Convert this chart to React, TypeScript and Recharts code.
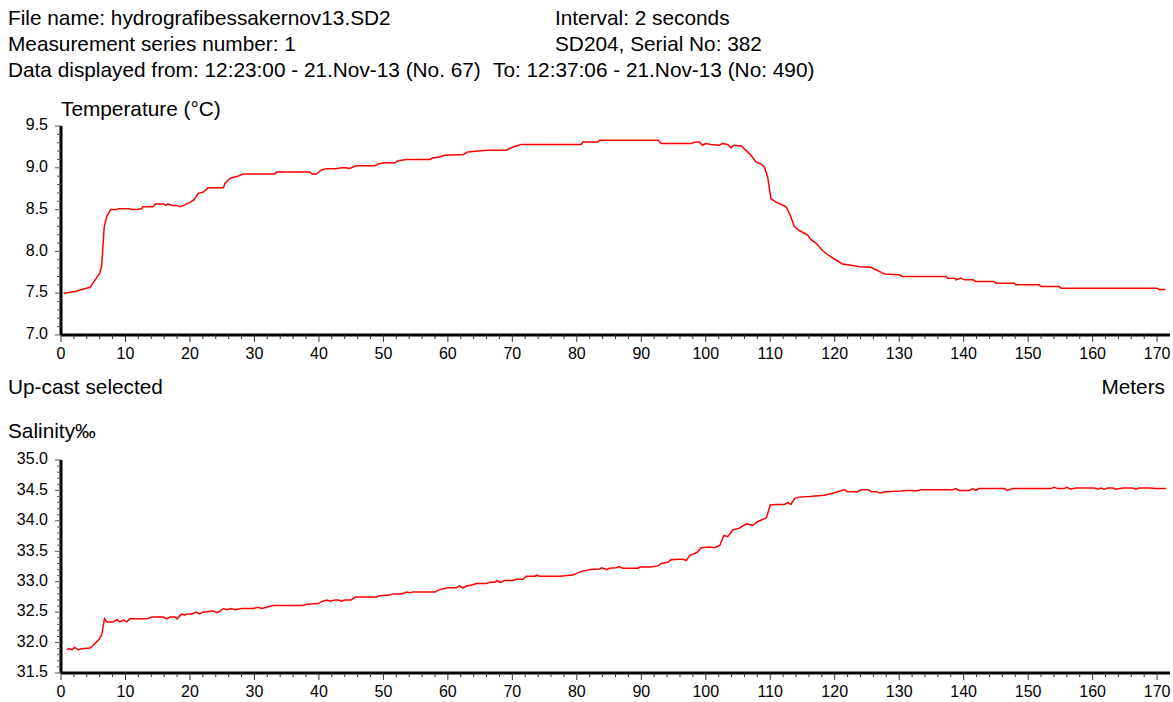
import { LineChart, Line, XAxis, YAxis } from 'recharts';

const FONT = '"Liberation Sans", Arial, Helvetica, sans-serif';

// Temperature profile (depth in meters, °C)
const tempDepth = [
  0.4, 1.4, 2.2, 3.5, 4.5, 5.3, 6.0, 6.3, 6.7, 7.1, 7.7, 8.6, 8.9, 10.7, 10.9, 11.7, 12.5, 12.7,
  14.3, 14.6, 15.9, 16.2, 16.6, 17.2, 17.9, 18.4, 19.0, 20.0, 20.6, 21.3, 22.1, 22.8, 25.2, 25.4,
  26.2, 26.9, 27.4, 28.3, 33.2, 33.4, 38.6, 38.9, 39.6, 40.4, 41.2, 42.7, 43.5, 44.3, 44.6, 45.0,
  45.8, 48.7, 49.2, 50.2, 51.8, 52.3, 53.6, 57.2, 57.7, 58.7, 59.5, 62.4, 63.1, 64.7, 66.0, 69.1,
  69.8, 70.6, 71.4, 80.7, 80.9, 83.3, 83.5, 92.6, 93.1, 97.7, 98.5, 99.0, 99.5, 100.0, 100.8,
  102.1, 102.6, 103.4, 103.9, 104.4, 105.5, 106.3, 107.0, 107.8, 108.6, 109.1, 109.6, 110.1,
  110.9, 111.9, 112.5, 113.2, 113.7, 114.5, 115.8, 116.3, 117.1, 118.1, 119.2, 120.2, 121.2,
  122.3, 123.8, 125.6, 126.4, 127.2, 127.7, 130.0, 130.5, 137.3, 137.5, 138.6, 138.8, 139.6,
  140.1, 141.4, 141.9, 144.7, 145.0, 147.9, 148.1, 151.7, 152.0, 154.8, 155.1, 170.0, 170.3, 171.3,
];
const tempValues = [
  7.5, 7.51, 7.52, 7.55, 7.57, 7.66, 7.74, 7.82, 8.29, 8.42, 8.5, 8.5, 8.51, 8.51, 8.5, 8.5, 8.51, 8.535,
  8.535, 8.567, 8.567, 8.55, 8.57, 8.55, 8.55, 8.535, 8.55, 8.587, 8.615, 8.695, 8.71, 8.76, 8.76, 8.81,
  8.874, 8.89, 8.9, 8.926, 8.926, 8.95, 8.95, 8.926, 8.926, 8.974, 8.99, 8.99, 9.0, 9.0, 8.99, 9.0,
  9.025, 9.025, 9.045, 9.06, 9.06, 9.085, 9.1, 9.1, 9.12, 9.13, 9.15, 9.16, 9.19, 9.2, 9.21, 9.21,
  9.24, 9.26, 9.28, 9.28, 9.31, 9.31, 9.33, 9.33, 9.29, 9.29, 9.31, 9.31, 9.27, 9.29, 9.28,
  9.27, 9.29, 9.28, 9.24, 9.27, 9.26, 9.205, 9.15, 9.07, 9.045, 9.01, 8.89, 8.63,
  8.59, 8.555, 8.53, 8.415, 8.3, 8.25, 8.196, 8.14, 8.1, 8.01, 7.945, 7.897, 7.85,
  7.837, 7.817, 7.81, 7.78, 7.75, 7.73, 7.72, 7.7, 7.7, 7.68, 7.68, 7.66, 7.68,
  7.66, 7.66, 7.64, 7.64, 7.62, 7.62, 7.6, 7.6, 7.58, 7.58, 7.56, 7.56, 7.545, 7.545,
];

// Salinity profile (depth in meters, ‰)
const salDepth = [
  0.9, 1.2, 1.7, 2.1, 2.7, 3.2, 4.5, 5.05, 5.8, 6.3, 6.75, 7.1, 8.1, 8.7, 9.1, 9.7, 10.2, 10.7,
  13.3, 14.1, 15.9, 16.4, 16.9, 17.7, 18.0, 18.7, 19.2, 19.5, 20.3, 21.0, 21.5, 22.0, 23.6, 24.1,
  24.6, 25.2, 25.7, 26.4, 27.0, 28.0, 29.8, 30.6, 31.1, 31.9, 32.9, 37.5, 38.1, 39.9, 40.6, 41.2,
  41.7, 42.5, 43.0, 43.5, 44.0, 45.0, 45.7, 48.9, 49.4, 51.0, 51.5, 52.8, 53.6, 54.1, 54.6, 58.0,
  58.7, 59.5, 60.0, 61.3, 61.8, 62.3, 62.9, 63.9, 64.4, 66.0, 66.5, 67.3, 67.6, 68.1, 68.8, 70.1,
  70.6, 71.6, 72.2, 73.5, 73.8, 74.2, 77.3, 79.4, 80.7, 82.2, 83.5, 83.9, 84.6, 85.1, 86.1, 86.6,
  87.1, 89.5, 89.7, 91.5, 91.8, 92.6, 93.1, 94.1, 94.6, 95.9, 96.4, 97.0, 97.5, 98.6, 99.3, 100.6,
  101.4, 102.2, 102.8, 103.4, 104.2, 105.2, 106.3, 107.3, 108.1, 109.4, 110.0, 110.9, 112.2, 112.7,
  113.2, 113.8, 114.5, 116.1, 118.4, 119.2, 120.2, 121.5, 122.0, 123.6, 124.1, 125.2, 125.7, 126.5,
  127.0, 128.0, 130.3, 131.1, 132.1, 132.6, 133.4, 138.3, 138.8, 139.3, 140.9, 141.4, 141.9, 142.4,
  146.3, 146.8, 147.6, 153.5, 154.0, 154.6, 155.6, 156.0, 156.6, 157.4, 160.3, 160.8, 161.3, 161.8,
  162.4, 163.1, 163.6, 164.7, 166.2, 166.7, 167.2, 168.8, 169.8, 171.4,
];
const salValues = [
  31.88, 31.9, 31.88, 31.92, 31.88, 31.9, 31.91, 31.96, 32.04, 32.12, 32.39, 32.34, 32.34, 32.38, 32.34, 32.37, 32.34, 32.39,
  32.39, 32.42, 32.42, 32.39, 32.42, 32.42, 32.39, 32.47, 32.45, 32.47, 32.47, 32.5, 32.47, 32.5, 32.52, 32.49,
  32.51, 32.56, 32.54, 32.56, 32.54, 32.56, 32.56, 32.58, 32.56, 32.58, 32.61, 32.61, 32.63, 32.64, 32.68, 32.7,
  32.68, 32.7, 32.7, 32.68, 32.7, 32.7, 32.75, 32.75, 32.77, 32.78, 32.8, 32.8, 32.83, 32.82, 32.83, 32.83,
  32.87, 32.89, 32.9, 32.9, 32.93, 32.9, 32.93, 32.95, 32.97, 32.97, 32.99, 32.99, 33.02, 32.99, 33.02, 33.02,
  33.04, 33.04, 33.09, 33.09, 33.11, 33.09, 33.09, 33.11, 33.17, 33.2, 33.21, 33.23, 33.2, 33.22, 33.23, 33.25,
  33.22, 33.22, 33.24, 33.24, 33.25, 33.26, 33.3, 33.32, 33.36, 33.37, 33.37, 33.35, 33.43, 33.48, 33.56, 33.57,
  33.56, 33.6, 33.76, 33.74, 33.85, 33.88, 33.95, 33.93, 33.99, 34.05, 34.26, 34.27, 34.27, 34.3,
  34.27, 34.37, 34.39, 34.4, 34.42, 34.44, 34.47, 34.51, 34.48, 34.48, 34.51, 34.51, 34.48, 34.48,
  34.46, 34.48, 34.49, 34.5, 34.5, 34.49, 34.51, 34.51, 34.53, 34.5, 34.5, 34.53, 34.5, 34.53,
  34.53, 34.5, 34.53, 34.53, 34.55, 34.53, 34.53, 34.55, 34.52, 34.54, 34.54, 34.52, 34.54, 34.52,
  34.54, 34.54, 34.52, 34.54, 34.54, 34.52, 34.54, 34.54, 34.53, 34.53,
];

const depthLabels = [0, 10, 20, 30, 40, 50, 60, 70, 80, 90, 100, 110, 120, 130, 140, 150, 160, 170];
const tempLabels = [7.0, 7.5, 8.0, 8.5, 9.0, 9.5];
const salLabels = [31.5, 32.0, 32.5, 33.0, 33.5, 34.0, 34.5, 35.0];

const headerLines = [
  { text: 'File name: hydrografibessakernov13.SD2', x: 8, y: 19 },
  { text: 'Interval: 2 seconds', x: 555, y: 19 },
  { text: 'Measurement series number: 1', x: 8, y: 45 },
  { text: 'SD204, Serial No: 382', x: 555, y: 45 },
  { text: 'Data displayed from: 12:23:00 - 21.Nov-13 (No. 67)', x: 8, y: 71 },
  { text: 'To: 12:37:06 - 21.Nov-13 (No: 490)', x: 493, y: 71 },
];

// minor ticks between first and last major label
function withMinor(labels: number[], parts: number) {
  const out: number[] = [];
  for (let i = 0; i < labels.length - 1; i++) {
    const step = (labels[i + 1] - labels[i]) / parts;
    for (let j = 0; j < parts; j++) out.push(+(labels[i] + j * step).toFixed(2));
  }
  out.push(labels[labels.length - 1]);
  return out;
}

const zip = (xs: number[], ys: number[]) => xs.map((d, i) => ({ depth: d, value: ys[i] }));

function DepthTick(props: any) {
  const { x, y, payload } = props;
  const v = payload.value as number;
  const major = depthLabels.includes(v);
  return (
    <g>
      <line x1={x} x2={x} y1={y} y2={y + (major ? 7 : 4)} stroke="#333" strokeWidth={1} />
      {major && (
        <text x={x} y={y + 20} textAnchor="middle" dominantBaseline="middle" fontSize={16} fontFamily={FONT} fill="#000">
          {v}
        </text>
      )}
    </g>
  );
}

function makeValueTick(labels: number[]) {
  return function ValueTick(props: any) {
    const { x, y, payload } = props;
    const v = payload.value as number;
    const major = labels.some((l) => Math.abs(l - v) < 1e-6);
    return (
      <g>
        <line x1={x} x2={x - (major ? 6 : 4)} y1={y} y2={y} stroke="#555" strokeWidth={1} />
        {major && (
          <text x={x - 13} y={y} textAnchor="end" dominantBaseline="middle" fontSize={16} fontFamily={FONT} fill="#000">
            {v.toFixed(1)}
          </text>
        )}
      </g>
    );
  };
}

const TempTick = makeValueTick(tempLabels);
const SalTick = makeValueTick(salLabels);

function Profile({ data, labels, tick, top, marginTop, plotHeight }: any) {
  const height = 290;
  return (
    <div style={{ position: 'absolute', left: 0, top }}>
      <LineChart width={1173} height={height} data={data} margin={{ top: marginTop, right: 3, bottom: 0, left: 0 }}>
        <XAxis
          dataKey="depth"
          type="number"
          domain={[0, 172]}
          ticks={withMinor(depthLabels, 5)}
          interval={0}
          tick={<DepthTick />}
          tickSize={0}
          tickMargin={0}
          tickLine={false}
          axisLine={{ stroke: '#000', strokeWidth: 3 }}
          height={height - marginTop - plotHeight}
          allowDataOverflow
        />
        <YAxis
          type="number"
          domain={[labels[0], labels[labels.length - 1]]}
          ticks={withMinor(labels, 5)}
          interval={0}
          tick={tick}
          tickSize={0}
          tickMargin={0}
          tickLine={false}
          axisLine={{ stroke: '#000', strokeWidth: 3 }}
          width={61}
          allowDataOverflow
        />
        <Line type="linear" dataKey="value" stroke="#ff0000" strokeWidth={1.5} dot={false} isAnimationActive={false} />
      </LineChart>
    </div>
  );
}

export default function App() {
  const textStyle = { fontFamily: FONT, fontSize: 20.8, fill: '#000' };
  return (
    <div style={{ position: 'absolute', left: 0, top: 0, width: 1173, height: 702, background: '#fff', overflow: 'hidden' }}>
      <Profile data={zip(tempDepth, tempValues)} labels={tempLabels} tick={<TempTick />} top={100} marginTop={26} plotHeight={209} />
      <Profile data={zip(salDepth, salValues)} labels={salLabels} tick={<SalTick />} top={440} marginTop={20} plotHeight={213} />
      <svg width={1173} height={702} style={{ position: 'absolute', left: 0, top: 0, pointerEvents: 'none' }}>
        {headerLines.map((h) => (
          <text key={h.text} x={h.x} y={h.y} dominantBaseline="middle" style={textStyle}>
            {h.text}
          </text>
        ))}
        <text x={61} y={110} dominantBaseline="middle" style={textStyle}>Temperature (°C)</text>
        <text x={8} y={388} dominantBaseline="middle" style={textStyle}>Up-cast selected</text>
        <text x={1165} y={388} dominantBaseline="middle" textAnchor="end" style={textStyle}>Meters</text>
        <text x={8} y={432} dominantBaseline="middle" style={textStyle}>Salinity‰</text>
      </svg>
    </div>
  );
}
